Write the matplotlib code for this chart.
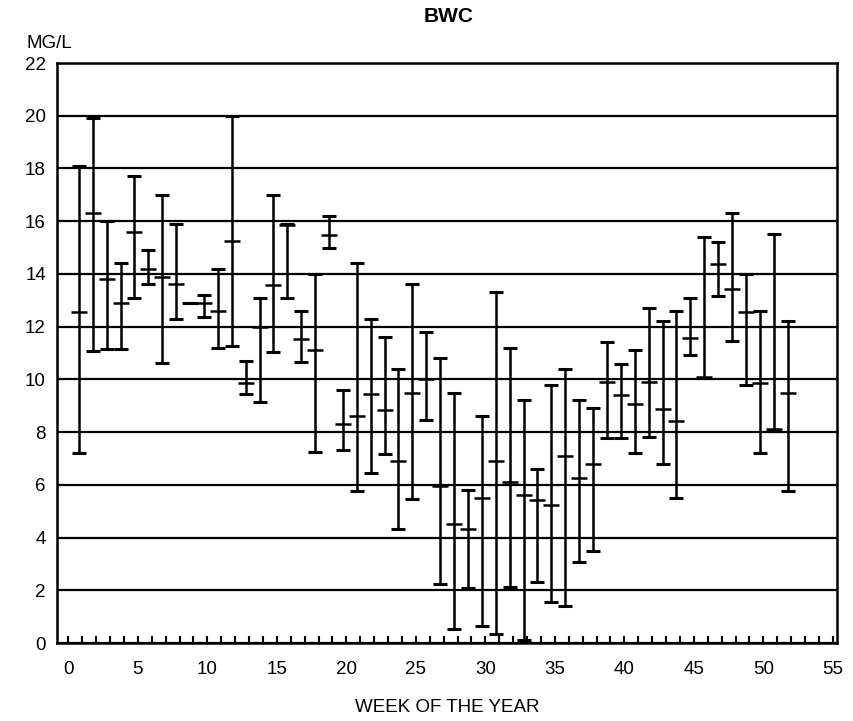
import matplotlib
matplotlib.use("Agg")
import matplotlib.pyplot as plt
import numpy as np

plt.rcParams['font.family'] = ['Liberation Sans', 'DejaVu Sans']

weeks = list(range(1, 53))
max_vals = [18.1, 19.9, 16.0, 14.4, 17.7, 14.9, 17.0, 15.9, 12.89, 13.2,
            14.2, 20.0, 10.7, 13.1, 17.0, 15.9, 12.6, 14.0, 16.2, 9.6,
            14.4, 12.3, 11.6, 10.4, 13.6, 11.8, 10.8, 9.5, 5.8, 8.6,
            13.3, 11.2, 9.2, 6.6, 9.8, 10.4, 9.2, 8.9, 11.4, 10.6,
            11.1, 12.7, 12.2, 12.6, 13.1, 15.4, 15.2, 16.3, 14.0, 12.6,
            15.5, 12.2]
mean_vals = [12.56, 16.3, 13.8, 12.88, 15.6, 14.2, 13.89, 13.6, 12.89, 12.88,
             12.58, 15.25, 9.86, 12.0, 13.59, 15.85, 11.53, 11.1, 15.48, 8.29,
             8.61, 9.43, 8.82, 6.91, 9.5, 10.0, 5.96, 4.51, 4.32, 5.5,
             6.89, 6.1, 5.6, 5.42, 5.25, 7.1, 6.25, 6.78, 9.89, 9.39,
             9.07, 9.89, 8.89, 8.42, 11.57, 10.1, 14.36, 13.43, 12.55, 9.87,
             8.1, 9.49]
min_vals = [7.22, 11.07, 11.17, 11.17, 13.09, 13.6, 10.61, 12.28, 12.89, 12.38,
            11.2, 11.28, 9.43, 9.15, 11.04, 13.09, 10.64, 7.25, 14.98, 7.33,
            5.76, 6.44, 7.16, 4.34, 5.45, 8.44, 2.25, 0.53, 2.09, 0.63,
            0.34, 2.12, 0.13, 2.33, 1.55, 1.42, 3.08, 3.48, 7.78, 7.78,
            7.21, 7.82, 6.79, 5.5, 10.91, 10.05, 13.15, 11.44, 9.77, 7.21,
            8.06, 5.78]
x_major_ticks = [0, 5, 10, 15, 20, 25, 30, 35, 40, 45, 50, 55]
y_ticks = [0, 2, 4, 6, 8, 10, 12, 14, 16, 18, 20, 22]

W, H = 854, 721
fig = plt.figure(figsize=(W / 100, H / 100), dpi=100)
ax = fig.add_axes([57 / W, 1 - 643 / H, (837 - 57) / W, (643 - 63) / H])

x = np.array(weeks) - 0.25
mean = np.array(mean_vals)
lo = mean - np.array(min_vals)
hi = np.array(max_vals) - mean

ax.errorbar(x, mean, yerr=[lo, hi], fmt='none', ecolor='black',
            elinewidth=1.8, capsize=4.8, capthick=2.2, zorder=3)
ax.plot(x, mean, linestyle='none', marker='_', markersize=11,
        markeredgewidth=1.8, color='black', zorder=4)

ax.set_xlim(-0.82, 55.3)
ax.set_ylim(0, 22)
ax.set_yticks(y_ticks)
ax.set_xticks(x_major_ticks)
ax.set_xticks(range(0, 56), minor=True)
ax.yaxis.grid(True, color='black', linewidth=1.6)
ax.set_axisbelow(True)

ax.tick_params(axis='y', length=0, pad=8, labelsize=13.5)
ax.tick_params(axis='x', which='both', direction='in', length=5, width=1.5,
               pad=13, labelsize=13.5, top=False)
for s in ax.spines.values():
    s.set_linewidth(1.8)
    s.set_color('black')

fig.text(449 / W, 1 - 16 / H, 'BWC', ha='center', va='center',
         fontsize=15, fontweight='bold')
fig.text(27 / W, 1 - 43 / H, 'MG/L', ha='left', va='center', fontsize=13.5)
fig.text(447 / W, 1 - 707 / H, 'WEEK OF THE YEAR', ha='center', va='center',
         fontsize=13.5)

fig.savefig('out.png', dpi=100)
